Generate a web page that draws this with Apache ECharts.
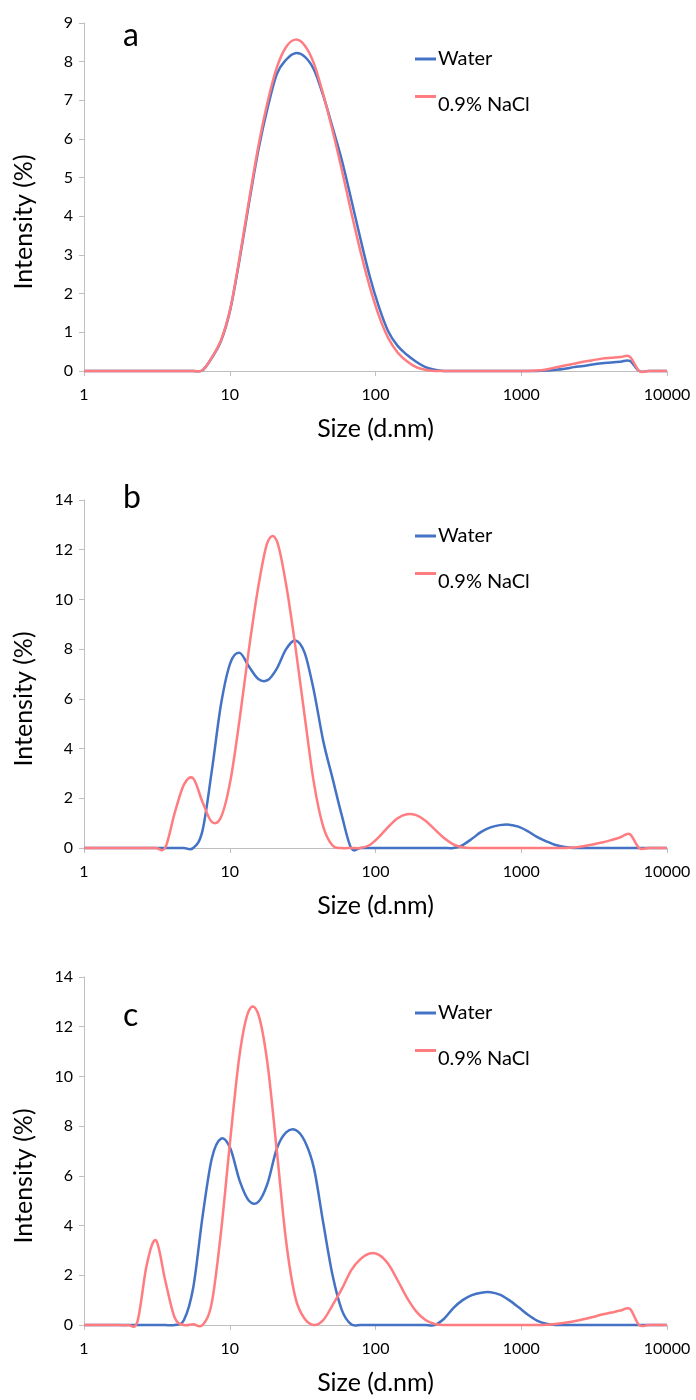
<!DOCTYPE html>
<html>
<head>
<meta charset="utf-8">
<title>Size distribution by intensity</title>
<script src="https://cdn.jsdelivr.net/npm/echarts@6/dist/echarts.min.js"></script>
<style>
  html, body { margin: 0; padding: 0; background: #fff; }
  #chart { width: 696px; height: 1400px; }
</style>
</head>
<body>
<div id="chart"></div>
<script>
// Size classes (d.nm) of the intensity distribution
const sizes = [0.965, 1.117, 1.294, 1.499, 1.736, 2.01, 2.328, 2.696, 3.122, 3.615,
  4.187, 4.849, 5.615, 6.503, 7.531, 8.721, 10.1, 11.7, 13.54, 15.69,
  18.17, 21.04, 24.36, 28.21, 32.67, 37.84, 43.82, 50.75, 58.77, 68.06,
  78.82, 91.28, 105.7, 122.4, 141.8, 164.2, 190.1, 220.2, 255, 295.3,
  342, 396.1, 458.7, 531.2, 615.1, 712.4, 825, 955.4, 1106, 1281,
  1484, 1718, 1990, 2305, 2669, 3091, 3580, 4145, 4801, 5560,
  6439, 7456, 8635, 10000];

const seriesNames = ['Water', '0.9% NaCl'];
const panelLetters = ['a', 'b', 'c'];

// Panel a
const waterA = [0, 0, 0, 0, 0, 0, 0, 0, 0, 0,
  0, 0, 0, 0.02, 0.34, 0.78, 1.60, 2.90, 4.33, 5.70,
  6.80, 7.68, 8.05, 8.22, 8.13, 7.79, 7.12, 6.30, 5.45, 4.45,
  3.42, 2.45, 1.65, 1.02, 0.65, 0.42, 0.24, 0.10, 0.03, 0,
  0, 0, 0, 0, 0, 0, 0, 0, 0, 0,
  0.01, 0.03, 0.06, 0.10, 0.13, 0.17, 0.20, 0.22, 0.24, 0.26,
  0, 0, 0, 0];
const naclA = [0, 0, 0, 0, 0, 0, 0, 0, 0, 0,
  0, 0, 0, 0.02, 0.35, 0.80, 1.62, 2.95, 4.40, 5.80,
  6.95, 7.85, 8.38, 8.57, 8.42, 7.95, 7.15, 6.22, 5.20, 4.12,
  3.10, 2.18, 1.42, 0.85, 0.48, 0.25, 0.10, 0.03, 0, 0,
  0, 0, 0, 0, 0, 0, 0, 0, 0, 0.01,
  0.04, 0.09, 0.14, 0.19, 0.24, 0.28, 0.32, 0.34, 0.36, 0.37,
  0, 0, 0, 0];

// Panel b
const waterB = [0, 0, 0, 0, 0, 0, 0, 0, 0, 0,
  0, 0, 0, 0.7, 3.1, 5.8, 7.45, 7.85, 7.3, 6.8,
  6.75, 7.22, 8.0, 8.35, 7.85, 6.3, 4.3, 2.8, 1.3, 0,
  0, 0, 0, 0, 0, 0, 0, 0, 0, 0,
  0, 0.12, 0.37, 0.65, 0.83, 0.92, 0.94, 0.86, 0.68, 0.45,
  0.27, 0.12, 0.04, 0, 0, 0, 0, 0, 0, 0,
  0, 0, 0, 0];
const naclB = [0, 0, 0, 0, 0, 0, 0, 0, 0, 0.02,
  1.4, 2.55, 2.8, 1.85, 1.05, 1.25, 2.7, 5.2, 8.0, 10.5,
  12.3, 12.35, 10.6, 8.1, 5.3, 2.6, 0.85, 0.1, 0, 0,
  0, 0.12, 0.45, 0.85, 1.2, 1.36, 1.32, 1.1, 0.75, 0.4,
  0.15, 0.03, 0, 0, 0, 0, 0, 0, 0, 0,
  0, 0, 0, 0.02, 0.07, 0.14, 0.22, 0.32, 0.43, 0.56,
  0, 0, 0, 0];

// Panel c
const waterC = [0, 0, 0, 0, 0, 0, 0, 0, 0, 0,
  0, 0.2, 1.5, 4.35, 6.7, 7.5, 7.1, 5.8, 5.0, 4.95,
  5.7, 7.1, 7.75, 7.85, 7.4, 6.3, 4.1, 2.0, 0.6, 0.03,
  0, 0, 0, 0, 0, 0, 0, 0, 0, 0.25,
  0.68, 1.0, 1.2, 1.3, 1.32, 1.22, 1.0, 0.72, 0.42, 0.18,
  0.05, 0, 0, 0, 0, 0, 0, 0, 0, 0,
  0, 0, 0, 0];
const naclC = [0, 0, 0, 0, 0, 0, 0.15, 2.43, 3.4, 1.77,
  0.3, 0, 0.03, 0, 0.9, 3.77, 7.5, 10.9, 12.65, 12.5,
  10.5, 7.0, 3.37, 1.1, 0.25, 0, 0.2, 0.8, 1.45, 2.2,
  2.65, 2.88, 2.82, 2.45, 1.8, 1.1, 0.55, 0.2, 0.04, 0,
  0, 0, 0, 0, 0, 0, 0, 0, 0, 0,
  0.01, 0.04, 0.09, 0.15, 0.23, 0.32, 0.42, 0.5, 0.58, 0.65,
  0, 0, 0, 0];

// y-axis ranges per panel
const yMax = [9, 14, 14];
const yStep = [1, 2, 2];
const xTicks = [1, 10, 100, 1000, 10000];

const panels = [[waterA, naclA], [waterB, naclB], [waterC, naclC]];

const FONT = 'Lato';
const AXIS_GREY = '#bfbfbf';
const COLORS = ['#4472c4', '#ff7c80'];

const gridTops = [23, 500, 977];
const gridHeight = 348;
const letterTops = [20, 482, 1000];

const pairs = ys => sizes.map((s, i) => [s, ys[i]]);

// Cubic Bezier path through the pixel points (Catmull-Rom tangents, 1/6 weight)
function smoothPath(pts) {
  let d = 'M' + pts[0][0] + ',' + pts[0][1];
  for (let i = 0; i < pts.length - 1; i++) {
    const p0 = pts[i - 1] || pts[i];
    const p1 = pts[i];
    const p2 = pts[i + 1];
    const p3 = pts[i + 2] || p2;
    const c1x = p1[0] + (p2[0] - p0[0]) / 6;
    const c1y = p1[1] + (p2[1] - p0[1]) / 6;
    const c2x = p2[0] - (p3[0] - p1[0]) / 6;
    const c2y = p2[1] - (p3[1] - p1[1]) / 6;
    d += ' C' + c1x + ',' + c1y + ' ' + c2x + ',' + c2y + ' ' + p2[0] + ',' + p2[1];
  }
  return d;
}

function curveSeries(name, ys, color, p) {
  const data = pairs(ys);
  return {
    name: name,
    type: 'custom',
    coordinateSystem: 'cartesian2d',
    xAxisIndex: p,
    yAxisIndex: p,
    data: data,
    itemStyle: { color: color },
    renderItem: function (params, api) {
      if (params.dataIndex !== 0) return null;
      const pts = data.map(d => api.coord(d));
      const cs = params.coordSys;
      return {
        type: 'path',
        shape: { pathData: smoothPath(pts) },
        style: { fill: null, stroke: color, lineWidth: 2.5, lineJoin: 'round', lineCap: 'round' },
        clipPath: { type: 'rect', shape: { x: cs.x, y: cs.y - 20, width: cs.width, height: cs.height + 40 } }
      };
    }
  };
}

// Legend key shapes: a plain bar, and a bar sitting at the top of a taller (empty) box
const KEY_BAR = 'rect';
const KEY_BAR_HIGH = 'path://M0,0H21V3H0Z M0,20H21V20.01H0Z';

function legendEntry(name, top, icon, itemHeight) {
  return {
    data: [name],
    left: 410,
    top: top,
    itemWidth: 21,
    itemHeight: itemHeight,
    icon: icon,
    textStyle: { fontFamily: FONT, fontSize: 20, color: '#000', lineHeight: 24,
      padding: [0, 0, 0, -3] }
  };
}

const grid = [], xAxis = [], yAxis = [], series = [], legend = [], graphic = [];

panels.forEach((pair, p) => {
  grid.push({ left: 84, width: 583, top: gridTops[p], height: gridHeight });

  xAxis.push({
    gridIndex: p,
    type: 'log',
    logBase: 10,
    min: xTicks[0],
    max: xTicks[xTicks.length - 1],
    name: 'Size (d.nm)',
    nameLocation: 'middle',
    nameGap: 45,
    nameTextStyle: { fontFamily: FONT, fontSize: 25, color: '#000' },
    axisLine: { show: true, lineStyle: { color: AXIS_GREY, width: 1 } },
    axisTick: { show: true, length: 5, lineStyle: { color: AXIS_GREY } },
    minorTick: { show: false },
    splitLine: { show: false },
    axisLabel: { fontFamily: FONT, fontSize: 16, color: '#000', margin: 16,
      formatter: v => String(v) }
  });

  yAxis.push({
    gridIndex: p,
    type: 'value',
    min: 0,
    max: yMax[p],
    interval: yStep[p],
    name: 'Intensity (%)',
    nameLocation: 'middle',
    nameRotate: 90,
    nameGap: 48,
    nameTextStyle: { fontFamily: FONT, fontSize: 25, color: '#000', padding: [0, 50, 0, 0] },
    axisLine: { show: true, lineStyle: { color: AXIS_GREY, width: 1 } },
    axisTick: { show: true, length: 5, lineStyle: { color: AXIS_GREY } },
    splitLine: { show: false },
    axisLabel: { fontFamily: FONT, fontSize: 16, color: '#000', margin: 11 }
  });

  pair.forEach((ys, k) => series.push(curveSeries(seriesNames[k], ys, COLORS[k], p)));

  legend.push(legendEntry(seriesNames[0], gridTops[p] + 19, KEY_BAR, 3));
  legend.push(legendEntry(seriesNames[1], gridTops[p] + 65, KEY_BAR_HIGH, 20));

  graphic.push({
    type: 'text',
    left: 123,
    top: letterTops[p],
    style: { text: panelLetters[p], fontFamily: FONT, fontSize: 32, fill: '#000' }
  });
});

const chart = echarts.init(document.getElementById('chart'), null, { renderer: 'canvas' });
chart.setOption({
  animation: false,
  backgroundColor: '#fff',
  grid, xAxis, yAxis, series, legend, graphic
});
</script>
</body>
</html>
